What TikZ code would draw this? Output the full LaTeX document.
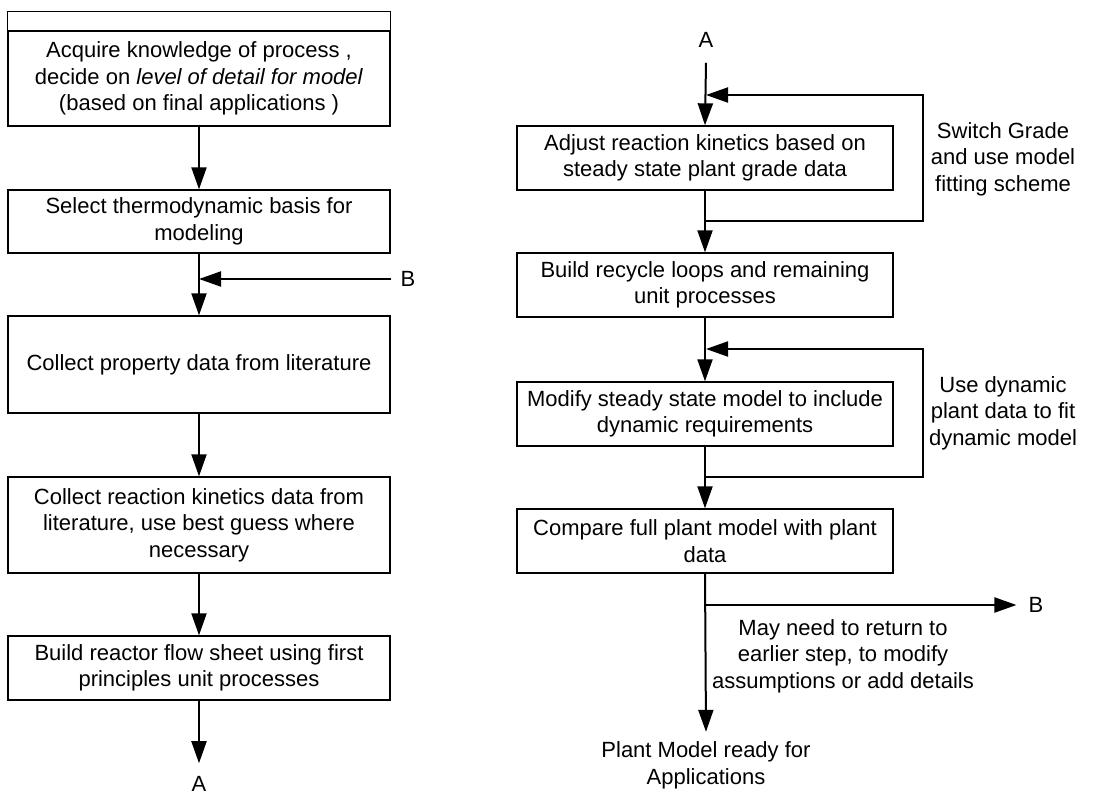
\documentclass[tikz,border=0pt]{standalone}
\usepackage{fontspec}
\setmainfont{Liberation Sans}
\usetikzlibrary{arrows.meta}
\begin{document}
\begin{tikzpicture}[x=1pt,y=-1pt,
  txt/.style={align=center, inner sep=0pt, font=\fontsize{22}{26.5}\selectfont},
  lbox/.style={txt, draw, line width=1.3pt, minimum width=382pt},
  rbox/.style={txt, draw, line width=1.3pt, minimum width=376pt},
  ln/.style={line width=2pt},
  arr/.style={line width=2pt, -{Triangle[length=22pt,width=15pt]}}]
\useasboundingbox (0,0) rectangle (1093,794);
% left column
\node[lbox, minimum height=95pt] (b1) at (199,78.5) {Acquire knowledge of process ,\\decide on \textit{level of detail for model}\\(based on final applications )};
\draw[line width=1.3pt] (b1.north west) -- ([yshift=19pt]b1.north west) -- ([yshift=19pt]b1.north east) -- (b1.north east);
\node[lbox, minimum height=63pt] (b2) at (199,221.5) {Select thermodynamic basis for\\modeling};
\node[lbox, minimum height=97pt] (b3) at (199,364.5) {Collect property data from literature};
\node[lbox, minimum height=96pt] (b4) at (199,525) {Collect reaction kinetics data from\\literature, use best guess where\\necessary};
\node[lbox, minimum height=64pt] (b5) at (199,668) {Build reactor flow sheet using first\\principles unit processes};
\node[txt] (A1) at (199,784) {A};
\node[txt] (B1) at (408,279) {B};
\draw[arr] (b1.south) -- (b2.north);
\draw[arr] (b2.south) -- (b3.north);
\draw[arr] ([xshift=-9pt]B1.west) -- (b2.south |- B1.west);
\draw[arr] (b3.south) -- (b4.north);
\draw[arr] (b4.south) -- (b5.north);
\draw[arr] (b5.south) -- ([yshift=13pt]A1.north);
% right column
\node[txt] (A2) at (706,40) {A};
\node[rbox, minimum height=64pt] (r1) at (705,158) {Adjust reaction kinetics based on\\steady state plant grade data};
\node[rbox, minimum height=64pt] (r2) at (705,285) {Build recycle loops and remaining\\unit processes};
\node[rbox, minimum height=64pt] (r3) at (705,414) {Modify steady state model to include\\dynamic requirements};
\node[rbox, minimum height=64pt] (r4) at (705,541) {Compare full plant model with plant\\data};
\node[txt] (s1) at (1003,159) {Switch Grade\\and use model\\fitting scheme};
\node[txt] (s2) at (1003,413) {Use dynamic\\plant data to fit\\dynamic model};
\node[txt] (m1) at (843,656) {May need to return to\\earlier step, to modify\\assumptions or add details};
\node[txt] (B2) at (1036,605) {B};
\node[txt] (P) at (706,765.5) {Plant Model ready for\\Applications};
\coordinate (l1a) at (706,221);
\coordinate (l1b) at (706,95);
\coordinate (l2a) at (706,477);
\coordinate (l2b) at (706,349);
\coordinate (bb) at (706,605);
\draw[arr] ([yshift=-15pt]A2.south) -- (r1.north);
\draw[arr] (r1.south) -- (r2.north);
\draw[arr] (r2.south) -- (r3.north);
\draw[arr] (r3.south) -- (r4.north);
\draw[arr] (l1a) -- ++(217,0) |- (l1b);
\draw[arr] (l2a) -- ++(217,0) |- (l2b);
\draw[arr] (bb) -- ([xshift=-12pt]B2.west);
\draw[arr] (r4.south) -- ([yshift=10pt]P.north);
\end{tikzpicture}
\end{document}
